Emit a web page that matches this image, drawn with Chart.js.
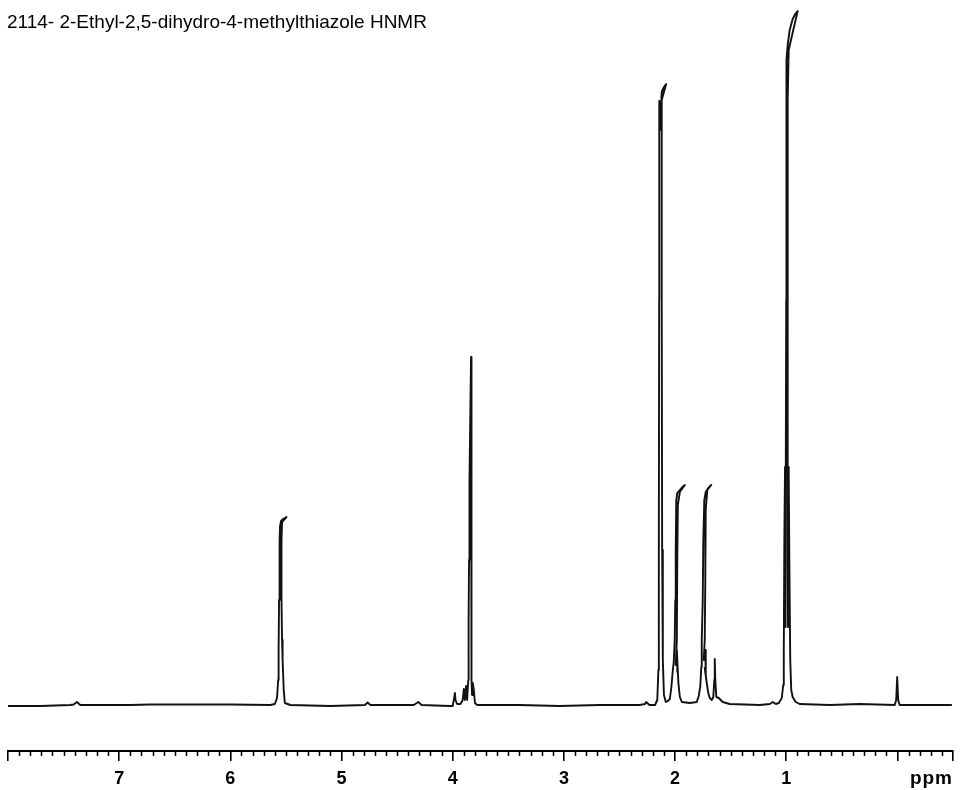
<!DOCTYPE html>
<html>
<head>
<meta charset="utf-8">
<script src="https://cdn.jsdelivr.net/npm/chart.js@4/dist/chart.umd.min.js"></script>
<style>
  html, body { margin: 0; padding: 0; background: #fff; }
  #wrap { width: 960px; height: 790px; }
</style>
</head>
<body>
<div id="wrap"><canvas id="c" width="960" height="790"></canvas></div>
<script>
// ---- data ----
const title = '2114- 2-Ethyl-2,5-dihydro-4-methylthiazole HNMR';
const unitLabel = 'ppm';

// chemical shift, ppm (trace order, pen can hook back at the top of a peak)
const ppm = [
  8.00, 7.71, 7.44, 7.41, 7.38, 7.35, 6.90, 6.72, 6.00, 5.64,
  5.60, 5.58, 5.57, 5.566, 5.562, 5.557, 5.553, 5.544, 5.526, 5.495,
  5.535, 5.54, 5.54, 5.535, 5.53, 5.52, 5.51, 5.46, 5.10, 4.79,
  4.765, 4.74, 4.35, 4.31, 4.28, 4.03, 4.00, 3.99, 3.98, 3.975,
  3.96, 3.93, 3.91, 3.90, 3.89, 3.88, 3.87, 3.86, 3.857, 3.853,
  3.849, 3.84, 3.835, 3.83, 3.83, 3.83, 3.835, 3.83, 3.826, 3.82,
  3.81, 3.80, 3.78, 3.40, 3.04, 2.68, 2.32, 2.27, 2.26, 2.23,
  2.18, 2.16, 2.15, 2.146, 2.143, 2.142, 2.133, 2.128, 2.12, 2.10,
  2.08, 2.12, 2.12, 2.116, 2.11, 2.10, 2.083, 2.065, 2.047, 2.034,
  2.02, 2.012, 2.003, 1.998, 1.994, 1.989, 1.98, 1.957, 1.935, 1.912,
  1.957, 1.975, 1.98, 1.984, 1.994, 1.984, 1.975, 1.98, 1.97, 1.957,
  1.939, 1.867, 1.805, 1.787, 1.773, 1.764, 1.76, 1.751, 1.746, 1.737,
  1.724, 1.701, 1.674, 1.71, 1.724, 1.728, 1.733, 1.742, 1.728, 1.724,
  1.733, 1.715, 1.701, 1.688, 1.67, 1.656, 1.647, 1.643, 1.638, 1.629,
  1.607, 1.571, 1.508, 1.238, 1.148, 1.121, 1.094, 1.067, 1.04, 1.027,
  1.022, 1.017, 1.011, 1.008, 1.004, 1.0, 1.0, 0.996, 0.987, 0.969,
  0.942, 0.919, 0.897, 0.978, 0.987, 0.987, 0.987, 0.984, 0.978, 0.972,
  0.964, 0.955, 0.942, 0.915, 0.879, 0.609, 0.339, 0.024, 0.011, 0.002,
  -0.007, -0.02, -0.49
];

// signal intensity (arbitrary units, baseline = 0)
const intensity = [
  -1, -1, 0, 0.5, 3, 0, 0, 0.5, 0.5, 0,
  1, 7, 25, 55, 105, 165, 179, 184, 186, 188,
  183, 165, 105, 65, 45, 15, 2, 0, -1, 0,
  2.5, 0, 0, 3, 0, -1, -1, 5, 12, 5,
  1, 1, 5, 16, 5, 19, 5, 25, 85, 145,
  225, 305, 348, 325, 225, 125, 65, 25, 10, 22,
  15, 2, 0, 0, -1, 0, 0, 1, 3, 0,
  0, 5, 35, 155, 405, 604, 575, 595, 613, 618,
  621, 605, 405, 155, 45, 10, 3, 4, 6, 17,
  35, 43, 65, 105, 155, 205, 212, 215, 218, 220,
  213, 200, 145, 65, 40, 55, 33, 45, 22, 8,
  3, 2, 3, 9, 19, 38, 65, 105, 165, 205,
  213, 217, 220, 215, 195, 125, 65, 45, 55, 30,
  37, 22, 12, 7, 5, 8, 25, 46, 25, 8,
  7, 3, 1, 0, 1, 3, 1, 2, 7, 20,
  55, 165, 238, 78, 155, 405, 625, 645, 660, 675,
  686, 691, 694, 655, 605, 405, 145, 78, 238, 145,
  45, 15, 8, 3, 1, 0, 1, 0, 5, 28,
  5, 0, 0
];

const majorTicks = [0, 1, 2, 3, 4, 5, 6, 7];
const tickLabels = ['', '1', '2', '3', '4', '5', '6', '7'];

// ---- plugins ----
const decorations = {
  id: 'decorations',
  afterDraw(chart) {
    const { ctx, scales } = chart;
    const x = scales.x;
    const yb = chart.chartArea.bottom;
    ctx.save();
    // minor ticks every 0.1 ppm
    ctx.strokeStyle = '#000';
    ctx.lineWidth = 1.5;
    ctx.beginPath();
    for (let i = -4; i < 80; i++) {
      if (i % 10 === 0) continue;
      const px = Math.round(x.getPixelForValue(i / 10)) + 0.5;
      ctx.moveTo(px, yb);
      ctx.lineTo(px, yb + 5);
    }
    ctx.stroke();
    // unit label at the right end
    ctx.fillStyle = '#000';
    ctx.font = "bold 19px 'Liberation Sans', Arial, sans-serif";
    if ('letterSpacing' in ctx) ctx.letterSpacing = '1px';
    ctx.textAlign = 'right';
    ctx.textBaseline = 'alphabetic';
    ctx.fillText(unitLabel, x.right, 784);
    if ('letterSpacing' in ctx) ctx.letterSpacing = '0px';
    // title
    ctx.font = "19px 'Liberation Sans', Arial, sans-serif";
    ctx.textAlign = 'left';
    ctx.fillText(title, 7, 28);
    ctx.restore();
  }
};

new Chart(document.getElementById('c'), {
  type: 'line',
  data: {
    datasets: [{
      data: ppm.map((p, i) => ({ x: p, y: intensity[i] })),
      borderColor: '#111',
      borderWidth: 1.9,
      borderJoinStyle: 'round',
      pointRadius: 0,
      tension: 0,
      fill: false,
    }]
  },
  options: {
    responsive: false,
    animation: false,
    devicePixelRatio: 1,
    layout: { padding: { left: 8, right: 7, top: 5, bottom: 0 } },
    plugins: { legend: { display: false }, tooltip: { enabled: false } },
    scales: {
      x: {
        type: 'linear', reverse: true, min: -0.5, max: 8,
        afterBuildTicks: s => { s.ticks = [-0.5, ...majorTicks, 8].map(v => ({ value: v })); },
        afterFit: s => { s.height = 39; },
        border: { display: true, color: '#000', width: 2 },
        grid: { drawOnChartArea: false, drawTicks: true, tickLength: 10, color: '#000', lineWidth: 1.6 },
        ticks: {
          autoSkip: false, maxRotation: 0, padding: 7, color: '#000',
          font: { family: "'Liberation Sans', Arial, sans-serif", size: 18, weight: 'bold' },
          callback: v => { const i = majorTicks.indexOf(v); return i >= 0 ? tickLabels[i] : ''; }
        }
      },
      y: { display: false, min: -46, max: 700 }
    }
  },
  plugins: [decorations]
});
</script>
</body>
</html>
